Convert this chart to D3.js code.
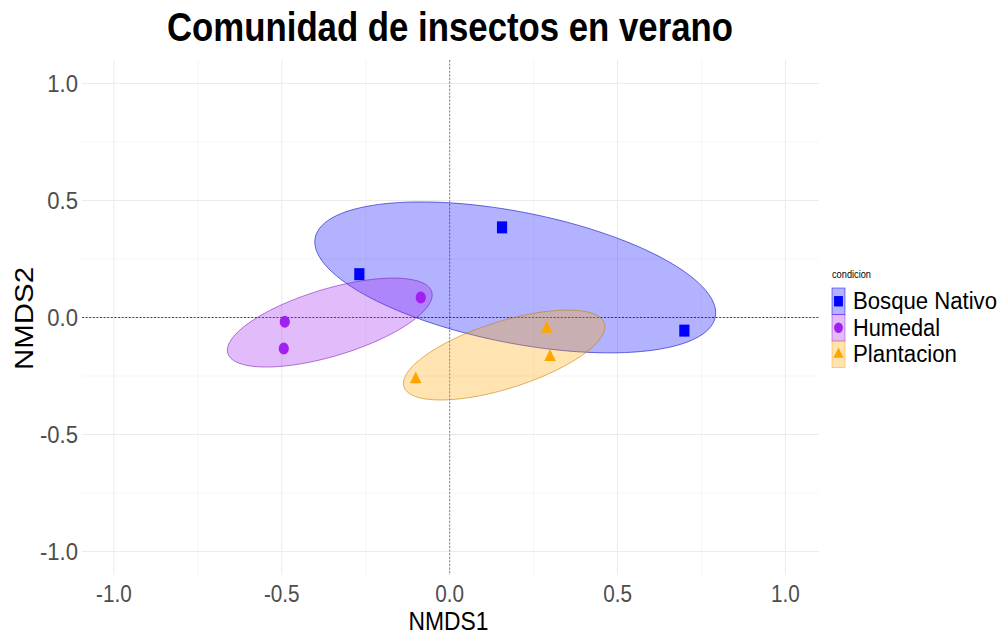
<!DOCTYPE html>
<html>
<head>
<meta charset="utf-8">
<script src="https://cdn.jsdelivr.net/npm/d3@7"></script>
<style>
  body { margin: 0; background: #fff; }
  text { font-family: "Liberation Sans", Arial, sans-serif; }
</style>
</head>
<body>
<div id="nmds"></div>
<script>
// data
var siteGroup = ["Bosque Nativo", "Bosque Nativo", "Bosque Nativo",
                 "Humedal", "Humedal", "Humedal",
                 "Plantacion", "Plantacion", "Plantacion"];
var nmds1 = [0.156, -0.269, 0.699, -0.086, -0.491, -0.494, -0.101, 0.289, 0.299];
var nmds2 = [0.385, 0.185, -0.056, 0.085, -0.018, -0.132, -0.264, -0.048, -0.169];

var groups = ["Bosque Nativo", "Humedal", "Plantacion"];
// ellipse spread per group (half extent on each axis, correlation)
var ellipseHalfX = [0.597, 0.305, 0.300];
var ellipseHalfY = [0.3225, 0.190, 0.192];
var ellipseCorr = [-0.47, 0.62, 0.63];

var majorTicks = [-1, -0.5, 0, 0.5, 1];
var minorTicks = [-0.75, -0.25, 0.25, 0.75];

var colors = ["#0000FF", "#A020F0", "#FFA500"];
var shapes = [d3.symbolSquare, d3.symbolCircle, d3.symbolTriangle];
var shapeSize = [144, 113, 81];

var width = 1005, height = 639;
var panel = { left: 82, right: 819, top: 60, bottom: 575 };

var svg = d3.select("#nmds").append("svg")
  .attr("width", width)
  .attr("height", height);

var x = d3.scaleLinear().domain([-1.095, 1.10]).range([panel.left, panel.right]);
var y = d3.scaleLinear().domain([-1.1, 1.1]).range([panel.bottom, panel.top]);
var color = d3.scaleOrdinal().domain(groups).range(colors);
var fmt = d3.formatLocale({ decimal: ".", thousands: ",", grouping: [3], currency: ["", ""], minus: "-" }).format(".1f");

var data = nmds1.map(function(d, i) {
  return { g: siteGroup[i], x: d, y: nmds2[i] };
});

// grid
var grid = svg.append("g");
grid.selectAll(".minx").data(minorTicks).enter().append("line")
  .attr("x1", function(d) { return x(d); }).attr("x2", function(d) { return x(d); })
  .attr("y1", panel.top).attr("y2", panel.bottom)
  .attr("stroke", "#F2F2F2").attr("stroke-width", 0.7);
grid.selectAll(".miny").data(minorTicks).enter().append("line")
  .attr("y1", function(d) { return y(d); }).attr("y2", function(d) { return y(d); })
  .attr("x1", panel.left).attr("x2", panel.right)
  .attr("stroke", "#F2F2F2").attr("stroke-width", 0.7);
grid.selectAll(".majx").data(majorTicks).enter().append("line")
  .attr("x1", function(d) { return x(d); }).attr("x2", function(d) { return x(d); })
  .attr("y1", panel.top).attr("y2", panel.bottom)
  .attr("stroke", "#EBEBEB").attr("stroke-width", 1);
grid.selectAll(".majy").data(majorTicks).enter().append("line")
  .attr("y1", function(d) { return y(d); }).attr("y2", function(d) { return y(d); })
  .attr("x1", panel.left).attr("x2", panel.right)
  .attr("stroke", "#EBEBEB").attr("stroke-width", 1);

// zero lines
svg.append("line")
  .attr("x1", x(0)).attr("x2", x(0)).attr("y1", panel.top).attr("y2", panel.bottom)
  .attr("stroke", "#808080").attr("stroke-width", 1).attr("stroke-dasharray", "2,1.6");
svg.append("line")
  .attr("y1", y(0)).attr("y2", y(0)).attr("x1", panel.left).attr("x2", panel.right)
  .attr("stroke", "#333").attr("stroke-width", 0.9).attr("stroke-dasharray", "2,1.6");

// ellipses around each group
function ellipsePoints(gi) {
  var pts = data.filter(function(d) { return d.g == groups[gi]; });
  var cx = d3.mean(pts, function(d) { return d.x; });
  var cy = d3.mean(pts, function(d) { return d.y; });
  var hx = ellipseHalfX[gi], hy = ellipseHalfY[gi], r = ellipseCorr[gi];
  return d3.range(0, 120).map(function(k) {
    var t = k / 120 * 2 * Math.PI;
    return [x(cx + hx * Math.cos(t)),
            y(cy + hy * (r * Math.cos(t) + Math.sqrt(1 - r * r) * Math.sin(t)))];
  });
}

var line = d3.line().curve(d3.curveLinearClosed);
svg.selectAll(".ell").data(groups).enter().append("path")
  .attr("d", function(d, i) { return line(ellipsePoints(i)); })
  .attr("fill", function(d) { return color(d); })
  .attr("fill-opacity", 0.3)
  .attr("stroke", function(d) { return d3.color(color(d)).darker(0.8); })
  .attr("stroke-opacity", 0.7)
  .attr("stroke-width", 0.8);

// points
svg.selectAll(".pt").data(data).enter().append("path")
  .attr("d", function(d) {
    var gi = groups.indexOf(d.g);
    return d3.symbol().type(shapes[gi]).size(shapeSize[gi])();
  })
  .attr("transform", function(d) { return "translate(" + x(d.x) + "," + y(d.y) + ") scale(0.85,1)"; })
  .attr("fill", function(d) { return color(d.g); });

// tick labels
function squeeze(k) {
  return function() { return this.getComputedTextLength() * k; };
}
svg.selectAll(".yl").data(majorTicks).enter().append("text")
  .attr("x", 78).attr("y", function(d) { return y(d) + 8.5; })
  .attr("text-anchor", "end")
  .style("font-size", "24px").attr("fill", "#4D4D4D")
  .text(fmt)
  .attr("lengthAdjust", "spacingAndGlyphs").attr("textLength", squeeze(0.92));
svg.selectAll(".xl").data(majorTicks).enter().append("text")
  .attr("x", function(d) { return x(d); }).attr("y", 601.5)
  .attr("text-anchor", "middle")
  .style("font-size", "23px").attr("fill", "#4D4D4D")
  .text(fmt)
  .attr("lengthAdjust", "spacingAndGlyphs").attr("textLength", squeeze(0.9));

// axis titles
svg.append("text")
  .attr("x", (panel.left + panel.right) / 2 - 2).attr("y", 630)
  .attr("text-anchor", "middle").style("font-size", "26px")
  .text("NMDS1")
  .attr("lengthAdjust", "spacingAndGlyphs").attr("textLength", 80);
svg.append("text")
  .attr("transform", "translate(33," + ((panel.top + panel.bottom) / 2 + 1) + ") rotate(-90)")
  .attr("text-anchor", "middle").style("font-size", "26px")
  .text("NMDS2")
  .attr("lengthAdjust", "spacingAndGlyphs").attr("textLength", 103);

// title
svg.append("text")
  .attr("x", 450).attr("y", 41)
  .attr("text-anchor", "middle").style("font-size", "40px").style("font-weight", "bold")
  .text("Comunidad de insectos en verano")
  .attr("lengthAdjust", "spacingAndGlyphs").attr("textLength", 566);

// legend
var legend = svg.append("g").attr("transform", "translate(832,288)");
legend.append("text")
  .attr("x", 0).attr("y", -10).style("font-size", "10.5px")
  .text("condicion")
  .attr("lengthAdjust", "spacingAndGlyphs").attr("textLength", 39);

var keyH = 26.5, keyW = 13;
var labelLen = [144, 87, 104];
var keys = legend.selectAll(".key").data(groups).enter().append("g")
  .attr("transform", function(d, i) { return "translate(0," + i * keyH + ")"; });
keys.append("rect")
  .attr("width", keyW).attr("height", keyH)
  .attr("fill", function(d) { return color(d); }).attr("fill-opacity", 0.3)
  .attr("stroke", function(d) { return color(d); }).attr("stroke-opacity", 0.6)
  .attr("stroke-width", 0.8);
keys.append("path")
  .attr("d", function(d, i) { return d3.symbol().type(shapes[i]).size(shapeSize[i] * 0.75)(); })
  .attr("transform", "translate(" + keyW / 2 + "," + keyH / 2 + ") scale(0.85,1)")
  .attr("fill", function(d) { return color(d); });
keys.append("text")
  .attr("x", 21).attr("y", keyH / 2 + 8.2)
  .style("font-size", "23px")
  .text(function(d) { return d; })
  .attr("lengthAdjust", "spacingAndGlyphs")
  .attr("textLength", function(d, i) { return labelLen[i]; });
</script>
</body>
</html>
